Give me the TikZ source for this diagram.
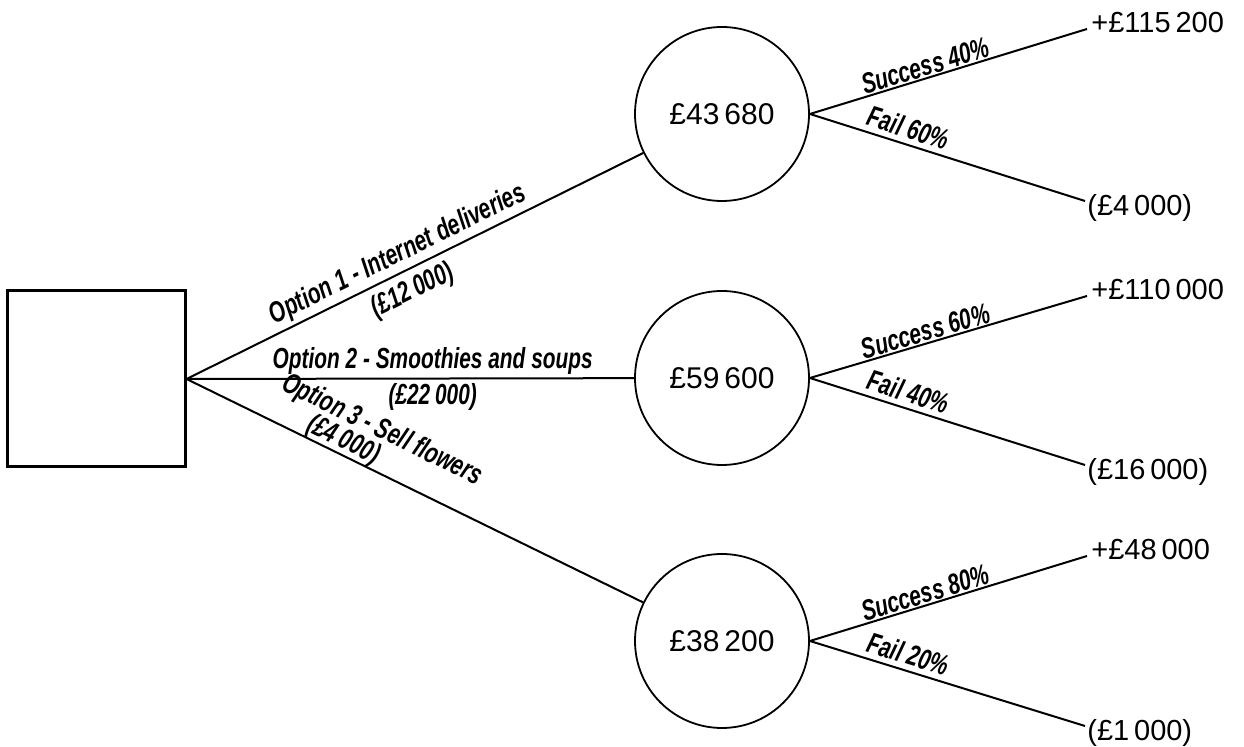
\documentclass[tikz,border=0pt]{standalone}
\usepackage{fontspec}
\setmainfont{Liberation Sans}
\newfontfamily\lblfont[FakeStretch=0.72]{Liberation Sans}
\usetikzlibrary{calc}

\begin{document}
\begin{tikzpicture}[x=0.5pt, y=-0.5pt]
\tikzset{
  decision/.style={draw, line width=1.5pt, minimum width=89pt, minimum height=88pt, inner sep=0},
  chance/.style={draw, line width=0.9pt, circle, minimum size=87pt, inner sep=0, font=\fontsize{15}{17}\selectfont},
  branch/.style={line width=1pt},
  lbl/.style={font=\lblfont\bfseries\itshape\fontsize{14.5}{16}\selectfont, sloped, inner sep=0.5pt},
  payoff/.style={font=\fontsize{14.5}{16}\selectfont, anchor=west, inner sep=1pt}
}
\useasboundingbox (0,0) rectangle (1244,747);

% decision and chance nodes
\node[decision] (dec) at (96,379) {};
\node[chance] (opt1) at (722,114) {£43\,680};
\node[chance] (opt2) at (722,378) {£59\,600};
\node[chance] (opt3) at (722,641) {£38\,200};

% options
\draw[branch] (dec.east) -- (opt1)
  node[lbl, pos=.48, above=1pt] {Option 1 - Internet deliveries}
  node[lbl, pos=.475, below=3pt] {(£12\,000)};
\draw[branch] (dec.east) -- (opt2)
  node[lbl, pos=.55, above=1pt] {Option 2 - Smoothies and soups}
  node[lbl, pos=.55, below=1.5pt] {(£22\,000)};
\draw[branch] (dec.east) -- (opt3)
  node[lbl, pos=.39, above=12pt] {Option 3 - Sell flowers}
  node[lbl, pos=.33, above=-1pt] {(£4\,000)};

% outcomes
\foreach \n/\sy/\fy/\sp/\fp/\win/\lose in {
  1/29/201/40/60/+£115\,200/(£4\,000),
  2/296/465/60/40/+£110\,000/(£16\,000),
  3/556/726/80/20/+£48\,000/(£1\,000)} {
  \coordinate (win\n) at (1087,\sy);
  \coordinate (lose\n) at (1085,\fy);
  \draw[branch] (opt\n.east) -- (win\n) node[lbl, pos=.43, above=0pt] {Success \sp\%};
  \draw[branch] (opt\n.east) -- (lose\n) node[lbl, pos=.34, above=2pt] {Fail \fp\%};
  \node[payoff, yshift=3pt, xshift=1pt] (winval\n) at (win\n) {\win};
  \node[payoff, yshift=-3.5pt] (loseval\n) at (lose\n) {\lose};
}
\end{tikzpicture}
\end{document}
